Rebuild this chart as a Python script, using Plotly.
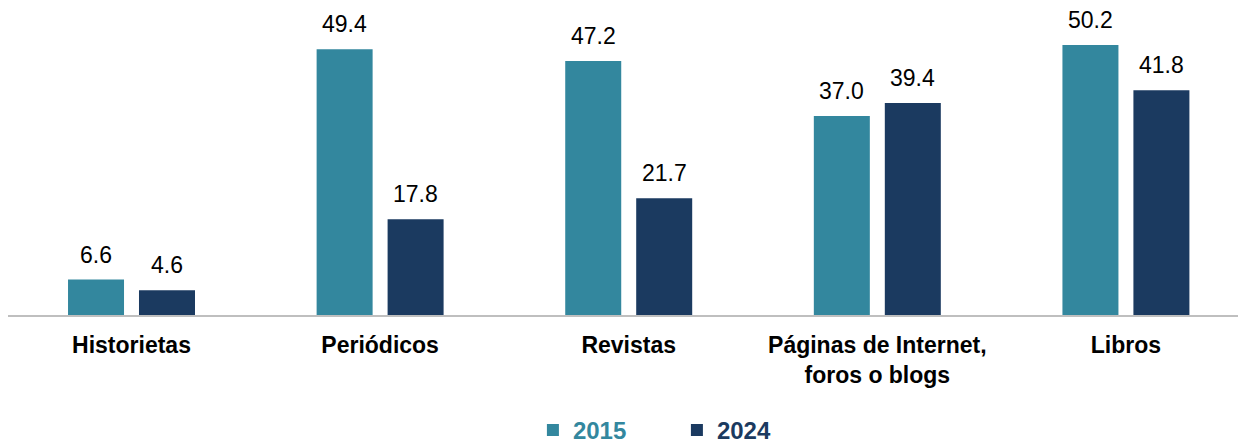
import plotly.graph_objects as go

categories = ["Historietas", "Periódicos", "Revistas", "Páginas de Internet,<br>foros o blogs", "Libros"]
values_2015 = [6.6, 49.4, 47.2, 37.0, 50.2]
values_2024 = [4.6, 17.8, 21.7, 39.4, 41.8]
series_names = ["2015", "2024"]
colors = ["#33879E", "#1B3A60"]
FONT = "Liberation Sans, Arial"

fig = go.Figure()
for name, vals, col in zip(series_names, [values_2015, values_2024], colors):
    fig.add_trace(go.Bar(
        x=categories, y=vals,
        name=f"<span style='color:{col}'><b>{name}</b></span>",
        marker=dict(color=col, line=dict(width=0)),
        hoverinfo="x+y",
    ))

# value labels above bars (offset to each bar's centre within its group)
offsets = [-35.5, 35.5]
for off, vals in zip(offsets, [values_2015, values_2024]):
    for cat, v in zip(categories, vals):
        fig.add_annotation(
            x=cat, y=v, xref="x", yref="y", text=f"{v:.1f}", showarrow=False,
            xshift=off, yshift=25, yanchor="middle",
            font=dict(family=FONT, size=23, color="#000000"),
        )

fig.update_layout(
    width=1238, height=437,
    margin=dict(l=0, r=0, t=2, b=130, autoexpand=False),
    paper_bgcolor="white", plot_bgcolor="white",
    barmode="group", bargap=0.429, bargroupgap=0.211,
    font=dict(family=FONT, color="#000000"),
    showlegend=True,
    legend=dict(orientation="h", x=0.424, xanchor="left", y=-0.378, yanchor="middle",
                font=dict(size=24, family=FONT),
                entrywidth=99, itemwidth=30, traceorder="normal"),
    xaxis=dict(range=[-0.4968, 4.483], showline=True, linecolor="#BFBFBF", linewidth=2,
               ticks="", showgrid=False, ticklabelstandoff=8,
               tickfont=dict(size=23, family=FONT, color="#000000", weight="bold")),
    yaxis=dict(range=[0, 56.7], visible=False, showgrid=False, zeroline=False),
)
fig.write_html("out.html")
